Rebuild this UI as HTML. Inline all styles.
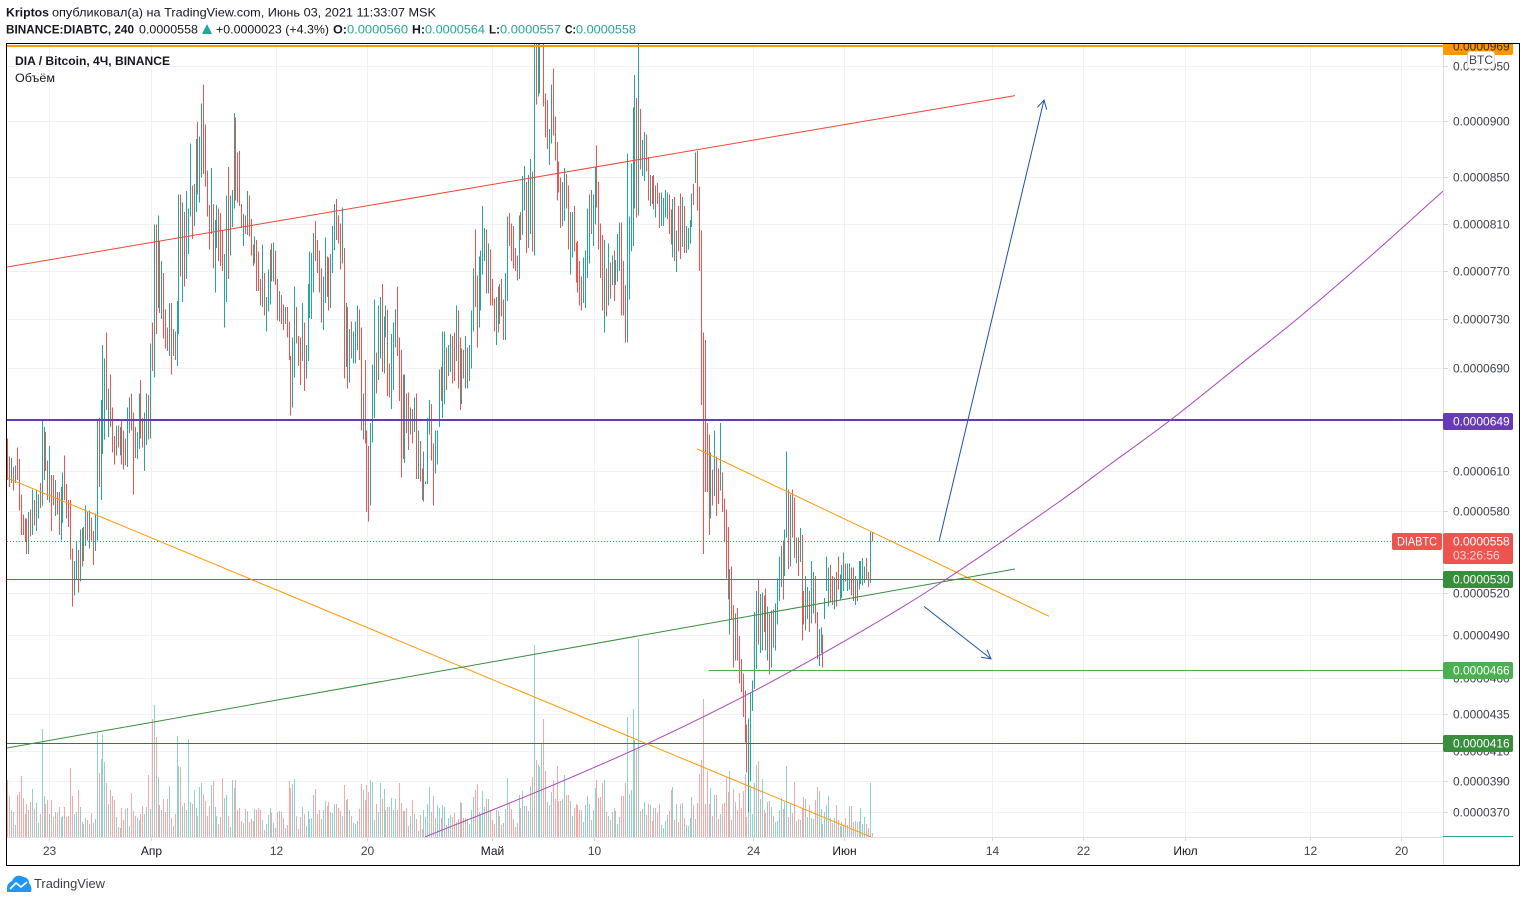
<!DOCTYPE html>
<html lang="ru">
<head>
<meta charset="utf-8">
<title>DIA / Bitcoin, 4Ч, BINANCE</title>
<style>
html,body{margin:0;padding:0;background:#fff;width:1526px;height:902px;overflow:hidden}
svg{display:block;font-family:"Liberation Sans","Noto Sans CJK SC",sans-serif}
</style>
</head>
<body>
<svg id="chart" width="1526" height="902" viewBox="0 0 1526 902" xmlns="http://www.w3.org/2000/svg">
  <defs>
    <clipPath id="pane-clip"><rect x="7" y="44" width="1436" height="793"></rect></clipPath>
    <clipPath id="frame-clip"><rect x="7" y="44" width="1512" height="821"></rect></clipPath>
  </defs>
  <rect x="0" y="0" width="1526" height="902" fill="#fff"></rect>

  <g font-size="12" fill="#131722">
    <text x="6" y="16.5" font-weight="bold" textLength="43" lengthAdjust="spacingAndGlyphs">Kriptos</text>
    <text x="52" y="16.5" textLength="384" lengthAdjust="spacingAndGlyphs">опубликовал(а) на TradingView.com, Июнь 03, 2021 11:33:07 MSK</text>
  </g>
  <g font-size="12" fill="#131722">
    <text x="6" y="33.5" font-weight="bold" textLength="128" lengthAdjust="spacingAndGlyphs">BINANCE:DIABTC, 240</text>
    <text x="139" y="33.5" textLength="59" lengthAdjust="spacingAndGlyphs">0.0000558</text>
    <polygon points="202,34 212,34 207,24" fill="#26a69a"></polygon>
    <text x="216" y="33.5" textLength="113" lengthAdjust="spacingAndGlyphs">+0.0000023 (+4.3%)</text>
    <text x="333" y="33.5" font-weight="bold" textLength="14" lengthAdjust="spacingAndGlyphs">O:</text>
    <text x="347" y="33.5" fill="#26a69a" textLength="61" lengthAdjust="spacingAndGlyphs">0.0000560</text>
    <text x="412" y="33.5" font-weight="bold" textLength="13" lengthAdjust="spacingAndGlyphs">H:</text>
    <text x="425" y="33.5" fill="#26a69a" textLength="60" lengthAdjust="spacingAndGlyphs">0.0000564</text>
    <text x="489" y="33.5" font-weight="bold" textLength="11" lengthAdjust="spacingAndGlyphs">L:</text>
    <text x="500" y="33.5" fill="#26a69a" textLength="61" lengthAdjust="spacingAndGlyphs">0.0000557</text>
    <text x="565" y="33.5" font-weight="bold" textLength="11" lengthAdjust="spacingAndGlyphs">C:</text>
    <text x="576" y="33.5" fill="#26a69a" textLength="60" lengthAdjust="spacingAndGlyphs">0.0000558</text>
  </g>

  <g id="grid"></g>
  <g id="price-axis"></g>
  <g id="time-axis"></g>
  <g id="pane" clip-path="url(#pane-clip)">
    <g id="volume-layer"></g>
    <g id="bar-layer"></g>
    <g id="drawing-layer"></g>
  </g>
  <g id="tag-layer" clip-path="url(#frame-clip)"></g>

  <g fill="#131722">
    <text x="15" y="65" font-size="12" font-weight="bold" textLength="155" lengthAdjust="spacingAndGlyphs">DIA / Bitcoin, 4Ч, BINANCE</text>
    <text x="15" y="82" font-size="12" textLength="40" lengthAdjust="spacingAndGlyphs">Объём</text>
  </g>

  <g>
    <rect x="1467.5" y="51.5" width="27" height="17" rx="3" fill="#fff" stroke="#d6d8e0"></rect>
    <text x="1481" y="64" font-size="12" text-anchor="middle" fill="#434651">BTC</text>
  </g>

  <rect x="6.5" y="43.5" width="1513" height="822" fill="none" stroke="#000" stroke-width="1"></rect>

  <g>
    <path d="M7 892 L7 888 C7 884 10 882 12 881 C14 876 19 874 23 877 C27 877 29 880 29 883 C31 885 32 888 31 892 Z" fill="#2196f3"></path>
    <polyline points="10,889 16,883 21,887 27,882" fill="none" stroke="#fff" stroke-width="1.6"></polyline>
    <text x="34" y="888" font-size="12.5" fill="#3b3f4b" textLength="71" lengthAdjust="spacingAndGlyphs">TradingView</text>
  </g>
</svg>

<script>
// ---- chart values (prices in units of 0.0000001 BTC) ----
const priceTicks = [950,900,850,810,770,730,690,610,580,520,490,460,435,410,390,370];
const timeTickLabels = ["23","Апр","12","20","Май","10","24","Июн","14","22","Июл","12","20"];
const timeTickDays = [0,9,20,28,39,48,62,70,83,91,100,111,119];
const monthTickLabels = ["Апр","Май","Июн","Июл"];

const barHighs = [
635,621,620,613,614,628,619,592,577,574,
574,579,581,596,588,595,592,601,649,644,
640,618,629,607,607,603,594,594,598,609,
622,600,588,588,552,543,557,551,566,567,
568,584,579,580,575,565,578,649,651,665,
709,698,719,674,685,659,637,645,645,644,
649,641,635,659,667,670,655,644,640,670,
681,651,655,670,669,710,727,809,809,817,
795,778,768,738,723,743,743,722,720,745,
835,835,828,820,838,823,880,843,844,884,
899,886,916,933,897,856,826,858,827,813,
826,823,819,804,784,834,859,834,839,907,
903,872,873,827,818,817,838,834,814,792,
799,796,786,763,792,768,748,771,788,793,
794,787,763,753,750,742,740,740,728,700,
715,757,740,716,715,743,727,709,759,786,
785,802,812,796,787,772,765,798,782,781,
784,808,827,831,817,810,824,789,743,740,
722,728,720,728,741,738,723,670,697,641,
629,647,693,746,703,741,748,759,732,741,
738,694,718,727,738,757,715,705,685,685,
670,671,659,658,667,670,641,633,612,625,
602,651,665,662,631,641,641,689,691,720,
720,707,709,718,716,719,741,737,715,706,
705,716,707,709,737,772,805,766,782,787,
825,806,805,793,788,763,747,748,757,759,
763,746,768,816,819,810,808,789,783,817,
820,851,860,846,852,866,855,1010,1010,1010,
1010,1010,1010,925,919,893,933,948,904,881,
864,850,846,858,853,843,820,820,825,794,
795,778,765,781,787,823,835,839,835,859,
878,846,810,800,796,772,793,777,783,787,
779,801,811,811,778,758,871,816,862,912,
942,921,1010,911,883,890,888,868,852,851,
852,843,845,837,837,832,839,837,835,822,
831,833,804,825,836,833,825,808,806,813,836,
844,872,873,842,804,719,713,647,638,624,
611,641,621,612,647,609,589,581,568,537,
539,511,505,509,489,473,463,451,428,432,
450,458,506,521,529,519,520,518,523,510,
505,507,508,512,530,546,554,558,566,625,
596,592,596,590,560,560,567,562,521,532,
524,521,543,535,532,506,494,495,490,516,
546,538,540,532,531,535,546,533,540,549,
541,541,541,538,538,532,529,543,543,545,
539,545,535,564,564];

const barLows = [
603,598,601,595,601,603,580,562,562,557,
548,548,561,562,569,565,574,582,584,603,
610,588,586,565,584,576,577,562,558,571,
588,574,568,544,510,518,529,520,528,539,
543,554,558,552,558,540,550,558,598,588,
623,634,657,636,644,624,615,622,628,622,
615,611,614,613,639,641,592,620,619,627,
635,628,610,630,634,635,688,683,718,739,
735,730,714,706,704,700,685,700,697,692,
718,765,744,757,763,784,816,797,808,820,
835,828,850,853,842,816,788,801,772,752,
789,778,774,770,723,744,763,783,807,823,
830,828,825,806,791,801,800,799,783,774,
776,753,753,741,740,733,720,736,742,761,
761,758,729,728,726,721,726,715,697,653,
659,683,710,692,677,696,672,682,696,731,
730,752,778,768,752,727,721,743,748,737,
739,768,787,796,793,771,776,682,691,674,
679,698,694,694,705,697,641,634,631,579,
572,584,632,651,670,681,698,687,686,715,
668,667,658,673,707,700,664,605,619,616,
639,626,638,631,640,604,604,602,588,587,
600,600,638,618,584,608,615,644,664,651,
662,673,684,687,678,680,696,674,657,662,
682,674,674,680,690,720,740,707,723,737,
767,778,751,751,741,741,720,709,719,726,
732,713,713,745,791,778,772,770,762,763,
796,800,821,785,789,801,786,783,915,922,
925,985,913,885,875,861,880,887,865,830,
837,806,808,812,823,788,767,781,786,760,
752,741,737,743,739,764,776,801,791,809,
824,788,764,737,719,732,741,747,758,745,
758,761,770,733,733,711,711,746,786,791,
823,815,817,857,851,847,855,830,825,827,
822,815,827,806,808,808,815,814,801,792,
781,778,769,786,780,790,785,785,788,793,807,
826,845,821,770,661,548,594,594,562,574,
584,591,576,585,595,579,557,530,515,490,
501,467,472,472,456,450,433,416,396,370,
390,437,452,466,483,477,479,492,479,472,
462,467,481,479,497,514,524,515,532,560,
537,539,560,545,541,532,542,486,497,493,
501,492,498,505,498,473,468,477,467,501,
521,510,513,511,508,510,522,515,516,521,
528,521,522,518,514,511,514,522,526,525,
527,529,524,527,557];

const barDirections = [
"ddududdddd","dududuuduu","dduddudduu","ddddduudud","uududduudu",
"uududddudu","ddduuddduu","dduudududu","dudddududu","ududuuuduu",
"duuddddudu","uddduuduuu","ddddududdd","uddduduuud","uddudduddd",
"uuddduduuu","uudddduudd","uuudddudud","uduuuddudd","duuuduuduu",
"dduuuddddu","ddudududdu","uuudduuudu","uduudduddu","duduuudduu",
"uududddudu","dduudddddu","duuduududu","uuddduuddd","dduudduudd",
"ddduuuuduu","ddddududud","uuuddduuuu","ududuuddud","dudduuuudd",
"ududduduuuu","dudddddddu","duddudddd"+"u","dduddddddu","uuuuduuddu",
"duduuuuduu","duddududdu","uduudduudu","uuddudduuu","duudduduuu",
"uddud"].join("").split("");

const barVolumes = [
57,41,27,25,12,42,45,61,39,23,33,27,35,48,28,34,14,23,108,41,
33,37,23,37,20,25,24,30,20,21,30,20,21,69,41,23,25,47,30,15,
13,19,17,13,24,14,18,104,64,78,103,75,54,33,47,41,37,20,10,9,
29,17,28,29,11,44,26,21,19,17,23,31,23,30,62,28,118,132,100,60,
32,27,38,25,38,51,19,11,23,101,71,70,31,34,27,98,35,33,47,29,
21,50,54,43,36,21,31,52,56,30,21,13,20,59,39,42,21,10,57,49,
57,27,29,16,14,28,26,15,18,16,28,27,29,27,17,7,13,22,29,24,
14,9,25,26,25,19,9,12,56,49,53,58,21,8,20,30,23,11,26,18,
19,42,48,23,27,18,27,36,31,35,25,24,33,33,29,26,21,52,37,38,
27,21,14,13,16,28,53,47,37,52,45,57,55,17,33,25,54,38,48,27,
30,30,39,27,38,27,54,34,26,26,29,11,21,37,23,18,6,22,8,27,
20,33,50,25,41,19,32,29,
19,32,30,12,19,22,20,24,15,18,35,34,19,19,18,13,27,40,47,53,
25,22,46,30,38,38,26,17,13,27,26,21,12,14,28,59,34,28,18,10,
14,42,29,46,31,31,26,51,60,192,77,72,70,94,118,66,35,32,45,57,
38,71,36,36,38,62,42,42,36,21,29,33,32,27,27,15,32,41,33,17,
27,49,57,39,40,54,57,25,21,17,25,29,26,13,20,41,41,54,120,43,
47,128,97,87,198,26,28,35,22,33,32,16,29,29,24,33,12,9,16,22,
26,47,50,17,33,15,33,34,19,12,11,19,40,32,18,34,63,77,138,33,
66,33,49,21,42,42,18,23,33,34,60,45,66,17,48,35,27,44,29,46,
63,20,26,52,23,54,72,76,38,58,27,24,35,36,30,21,15,16,27,39,28,
35,71,20,34,24,55,16,18,17,29,40,38,20,32,19,18,37,50,46,28,
13,25,32,41,19,14,19,32,17,11,15,12,19,12,31,31,15,16,15,16,
29,13,20,13,9,54,4];

// trend lines as [bar index, price] anchors
const resistanceTrend = [[-0.7,773],[530.3,923]];
const longFallingTrend = [[-0.7,605],[454.5,354]];
const shortFallingTrend = [[363,627],[548.2,503]];
const risingGreenTrend = [[-0.7,412],[530.3,537]];
const purpleCurve = [[219.8,354],[280.3,384],[336.7,415],[391.9,450],[450.3,493],[493.5,529],[551.9,585],[580.3,615],[611.9,649],[648.7,693],[680.3,732],[717.2,782],[755.6,838]];
const upArrow = [[490.3,557],[545.6,919]];
const downArrow = [[482.4,510],[517.7,473]];

const levelTop = 969;
const levelPurple = 649;
const levelLast = 558;
const levelGreenUpper = 530;
const levelGreenMiddle = 466;
const levelGreenLower = 416;
const levelMiddleStartBar = 369;

// ---- axis functions ----
function yScale(price){ return 121 + 2113 * Math.log(1900 / (price + 1000)); }
function levelY(price){ return Math.round(yScale(price) + 0.6) + 0.5; }
function xScale(barIndex){ return 7.4 + 1.9 * barIndex; }
function xFromDay(day){ return 49 + 11.36 * day; }
function volumeY(volume){ return 837 - volume; }
function priceText(price){ return (price / 1e7).toFixed(7); }

const NS = "http://www.w3.org/2000/svg";
function make(parent, tag, attrs, text){
  const el = document.createElementNS(NS, tag);
  for (const k in attrs) el.setAttribute(k, attrs[k]);
  if (text !== undefined) el.textContent = text;
  parent.appendChild(el);
  return el;
}

const gridLayer = document.getElementById("grid");
const priceAxis = document.getElementById("price-axis");
const timeAxis = document.getElementById("time-axis");
const volumeLayer = document.getElementById("volume-layer");
const barLayer = document.getElementById("bar-layer");
const drawingLayer = document.getElementById("drawing-layer");
const tagLayer = document.getElementById("tag-layer");

// grid + price axis
priceTicks.forEach(function(p){
  const y = Math.round(yScale(p)) + 0.5;
  const gridLine = make(gridLayer, "line", {x1:7, x2:1443, y1:y, y2:y, stroke:"#f0f1f4", "stroke-width":1});
  
  
  const tick = make(priceAxis, "line", {x1:1443, x2:1448, y1:y, y2:y, stroke:"#d6d8e0", "stroke-width":1});
  
  
  const label = make(priceAxis, "text", {x:1453, y:y+4, "font-size":12, fill:"#3d4150"}, priceText(p));
  
  
});

timeTickLabels.forEach(function(t, i){
  const x = Math.round(xFromDay(timeTickDays[i])) + 0.5;
  const gridLine = make(gridLayer, "line", {x1:x, x2:x, y1:44, y2:837, stroke:"#f0f1f4", "stroke-width":1});
  
  
  const tick = make(timeAxis, "line", {x1:x, x2:x, y1:837, y2:841, stroke:"#d6d8e0", "stroke-width":1});
  
  
  const isMonth = monthTickLabels.indexOf(t) >= 0;
  const label = make(timeAxis, "text", {x:x, y:855, "font-size":12, "text-anchor":"middle", fill: isMonth ? "#131722" : "#3d4150"}, t);
  
  
});

const axisBottom = make(timeAxis, "line", {x1:7, x2:1443, y1:837.5, y2:837.5, stroke:"#dcdee5", "stroke-width":1});


const axisSide = make(priceAxis, "line", {x1:1443.5, x2:1443.5, y1:44, y2:865, stroke:"#dcdee5", "stroke-width":1});


const volumeMark = make(priceAxis, "line", {x1:1443, x2:1513, y1:836.5, y2:836.5, stroke:"#26a69a", "stroke-width":1});



// volume
barVolumes.forEach(function(v, i){
  const x = Math.round(xScale(i)) + 0.5;
  const up = barDirections[i] !== "d";
  const bar = make(volumeLayer, "line", {x1:x, x2:x, y1:837, y2:volumeY(v), stroke: up ? "#26a69a" : "#ef5350", "stroke-opacity":0.5, "stroke-width":1, "shape-rendering":"crispEdges"});
  
  
});

// price bars
barHighs.forEach(function(h, i){
  const x = Math.round(xScale(i)) + 0.5;
  const up = barDirections[i] !== "d";
  const bar = make(barLayer, "line", {x1:x, x2:x, y1:yScale(h), y2:yScale(barLows[i]), stroke: up ? "#26a69a" : "#ef5350", "stroke-width":1, "shape-rendering":"crispEdges"});
  
  
});

// horizontal levels
function hLevel(y, startX, color, width, dash, name){
  const attrs = {x1:startX, x2:1443, y1:y, y2:y, stroke:color, "stroke-width":width};
  if (dash) {
    attrs["stroke-dasharray"] = dash;
  } else {
    attrs["shape-rendering"] = "crispEdges";
  }
  const line = make(drawingLayer, "line", attrs);
  
  
}
hLevel(Math.round(yScale(levelTop)), 7, "#ff9800", 2, null, "top-orange-level");
hLevel(Math.round(yScale(levelPurple)), 7, "#673ab7", 2, null, "purple-level");
hLevel(levelY(levelLast), 7, "#ef5350", 1, "1 2", "last-price-line");
hLevel(levelY(levelGreenUpper), 7, "#388e3c", 1, null, "green-level-upper");
hLevel(levelY(levelGreenMiddle), xScale(levelMiddleStartBar), "#4caf50", 1, null, "green-level-middle");
hLevel(levelY(levelGreenLower), 7, "#2e7d32", 1, null, "green-level-lower");

// trend lines
function anchorsToPoints(anchors){
  return anchors.map(function(a){ return xScale(a[0]).toFixed(1) + "," + yScale(a[1]).toFixed(1); }).join(" ");
}
function trend(anchors, color, name){
  const line = make(drawingLayer, "polyline", {points:anchorsToPoints(anchors), fill:"none", stroke:color, "stroke-width":1});
  
  
}
trend(resistanceTrend, "#f44336", "red-resistance-trendline");
trend(longFallingTrend, "#ff9800", "long-orange-trendline");
trend(shortFallingTrend, "#ff9800", "short-orange-trendline");
trend(risingGreenTrend, "#388e3c", "green-trendline");

// smooth curve through the purple anchors (Catmull-Rom to Bezier)
function smoothPath(anchors){
  const pts = anchors.map(function(a){ return [xScale(a[0]), yScale(a[1])]; });
  let d = "M" + pts[0][0].toFixed(1) + " " + pts[0][1].toFixed(1);
  for (let i = 0; i < pts.length - 1; i++) {
    const p0 = pts[Math.max(i - 1, 0)], p1 = pts[i], p2 = pts[i + 1], p3 = pts[Math.min(i + 2, pts.length - 1)];
    const c1x = p1[0] + (p2[0] - p0[0]) / 6, c1y = p1[1] + (p2[1] - p0[1]) / 6;
    const c2x = p2[0] - (p3[0] - p1[0]) / 6, c2y = p2[1] - (p3[1] - p1[1]) / 6;
    d += " C" + c1x.toFixed(1) + " " + c1y.toFixed(1) + " " + c2x.toFixed(1) + " " + c2y.toFixed(1) + " " + p2[0].toFixed(1) + " " + p2[1].toFixed(1);
  }
  return d;
}
const curve = make(drawingLayer, "path", {d:smoothPath(purpleCurve), fill:"none", stroke:"#ab47bc", "stroke-width":1});



function arrow(anchors, name){
  trend(anchors, "#1e53a8", name);
  const x1 = xScale(anchors[0][0]), y1 = yScale(anchors[0][1]);
  const x2 = xScale(anchors[1][0]), y2 = yScale(anchors[1][1]);
  const angle = Math.atan2(y2 - y1, x2 - x1);
  const size = 10, spread = 0.5;
  const ax = x2 - size * Math.cos(angle - spread), ay = y2 - size * Math.sin(angle - spread);
  const bx = x2 - size * Math.cos(angle + spread), by = y2 - size * Math.sin(angle + spread);
  const head = make(drawingLayer, "polyline", {points: ax + "," + ay + " " + x2 + "," + y2 + " " + bx + "," + by, fill:"none", stroke:"#1e53a8", "stroke-width":1});
  
  
}
arrow(upArrow, "blue-up-arrow");
arrow(downArrow, "blue-down-arrow");

// price tags
function tag(price, color, textColor, name){
  const y = levelY(price);
  const box = make(tagLayer, "rect", {x:1443, y:y-8.5, width:70, height:17, rx:2, fill:color});
  
  
  const label = make(tagLayer, "text", {x:1453, y:y+4, "font-size":12, fill:textColor}, priceText(price));
  
  
}
tag(levelTop, "#ff9800", "#2a2e39", "top-orange-price-tag");
tag(levelPurple, "#673ab7", "#fff", "purple-price-tag");
tag(levelGreenUpper, "#388e3c", "#fff", "green-upper-price-tag");
tag(levelGreenMiddle, "#4caf50", "#fff", "green-middle-price-tag");
tag(levelGreenLower, "#388e3c", "#fff", "green-lower-price-tag");

const lastY = levelY(levelLast);
const lastBox = make(tagLayer, "rect", {x:1443, y:lastY-8.5, width:70, height:31, rx:2, fill:"#ef5350"});


const lastLabel = make(tagLayer, "text", {x:1453, y:lastY+4, "font-size":12, fill:"#fff"}, priceText(levelLast));


const countdown = make(tagLayer, "text", {x:1453, y:lastY+18, "font-size":12, fill:"#fff", "fill-opacity":0.75}, "03:26:56");


const symBox = make(tagLayer, "rect", {x:1392, y:lastY-8.5, width:50, height:17, rx:2, fill:"#ef5350"});


const symLabel = make(tagLayer, "text", {x:1397, y:lastY+4, "font-size":12, fill:"#fff", textLength:40, lengthAdjust:"spacingAndGlyphs"}, "DIABTC");


</script>
</body>
</html>
